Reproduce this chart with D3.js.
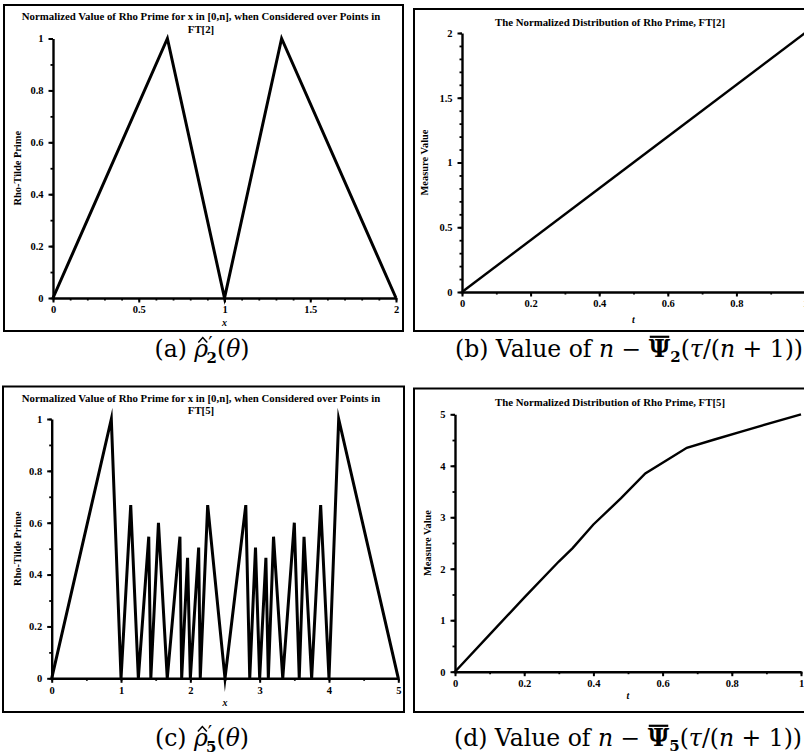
<!DOCTYPE html>
<html>
<head>
<meta charset="utf-8">
<script src="https://cdn.jsdelivr.net/npm/d3@7"></script>
<style>
  html, body { margin: 0; padding: 0; background: #fff; }
  svg { display: block; }
</style>
</head>
<body>
<script>
// ---- data -------------------------------------------------------------
// Rho-tilde prime over x in [0, n] for FT[2]
const rhoX2 = [0, 0.667, 1, 1.333, 2];
const rhoY2 = [0, 1, 0, 1, 0];

// Normalized distribution of rho prime, FT[2]
const distT2 = [0, 0.5, 1];
const distV2 = [0, 1, 2];

// Rho-tilde prime over x in [0, n] for FT[5]
const rhoX5 = [0, 0.86, 1, 1.14, 1.25, 1.40, 1.43, 1.54, 1.667, 1.85, 1.875, 1.96, 2, 2.12, 2.143,
               2.25, 2.5, 2.8, 2.857, 2.94, 3, 3.09, 3.125, 3.2, 3.333, 3.5, 3.571, 3.64, 3.75,
               3.88, 4, 4.14, 5];
const rhoY5 = [0, 1, 0, 0.668, 0, 0.546, 0, 0.60, 0, 0.546, 0, 0.465, 0, 0.504, 0,
               0.668, 0, 0.668, 0, 0.504, 0, 0.465, 0, 0.546, 0, 0.60, 0, 0.546, 0,
               0.668, 0, 1, 0];

// Normalized distribution of rho prime, FT[5]
const distT5 = [0, 0.1, 0.2, 0.3, 0.34, 0.4, 0.48, 0.55, 0.62, 0.67, 0.75, 0.83, 1];
const distV5 = [0, 0.72, 1.44, 2.14, 2.40, 2.86, 3.37, 3.85, 4.14, 4.35, 4.51, 4.67, 5];

// ---- ticks ------------------------------------------------------------
const xTicksA = [0, 0.5, 1, 1.5, 2];
const xLabelsA = ["0", "0.5", "1", "1.5", "2"];
const yTicksRho = [0, 0.2, 0.4, 0.6, 0.8, 1];
const yLabelsRho = ["0", "0.2", "0.4", "0.6", "0.8", "1"];
const xTicksT = [0, 0.2, 0.4, 0.6, 0.8, 1];
const xLabelsT = ["0", "0.2", "0.4", "0.6", "0.8", "1"];
const yTicksB = [0, 0.5, 1, 1.5, 2];
const yLabelsB = ["0", "0.5", "1", "1.5", "2"];
const xTicksC = [0, 1, 2, 3, 4, 5];
const xLabelsC = ["0", "1", "2", "3", "4", "5"];
const yTicksD = [0, 1, 2, 3, 4, 5];
const yLabelsD = ["0", "1", "2", "3", "4", "5"];

// ---- text -------------------------------------------------------------
const titleRho2 = ["Normalized Value of Rho Prime for x in [0,n], when Considered over Points in", "FT[2]"];
const titleRho5 = ["Normalized Value of Rho Prime for x in [0,n], when Considered over Points in", "FT[5]"];
const titleDist2 = ["The Normalized Distribution of Rho Prime, FT[2]"];
const titleDist5 = ["The Normalized Distribution of Rho Prime, FT[5]"];

const W = 804, H = 755;
const svg = d3.select("body").append("svg")
  .attr("width", W).attr("height", H)
  .attr("viewBox", `0 0 ${W} ${H}`);

const SMALL_FONT = "'Liberation Serif', 'Times New Roman', serif";
const CAP_FONT = "'DejaVu Serif', 'Liberation Serif', serif";

function range(a, b, step) {
  const out = [];
  const n = Math.round((b - a) / step);
  for (let i = 0; i <= n; i++) out.push(+(a + i * step).toFixed(6));
  return out;
}

function panel(p) {
  const g = svg.append("g");

  // frame
  g.append("rect")
    .attr("x", p.frame[0]).attr("y", p.frame[1])
    .attr("width", p.frame[2]).attr("height", p.frame[3])
    .attr("fill", "none").attr("stroke", "#000").attr("stroke-width", 2);

  // title
  g.append("g").selectAll("text").data(p.title).join("text")
    .attr("x", p.titleX)
    .attr("y", (d, i) => p.titleY + i * 12.6)
    .attr("text-anchor", "middle")
    .attr("font-family", SMALL_FONT)
    .attr("font-weight", "bold")
    .attr("font-size", 10.8)
    .text(d => d);

  const x = d3.scaleLinear().domain(p.xDomain).range(p.xRange);
  const y = d3.scaleLinear().domain(p.yDomain).range(p.yRange);

  // minor ticks
  g.append("g").attr("transform", `translate(0,${p.yRange[0]})`)
    .call(d3.axisBottom(x).tickValues(p.xMinor).tickFormat("").tickSize(2.5).tickSizeOuter(0))
    .call(s => s.select(".domain").remove())
    .selectAll("line").attr("stroke-width", 1.8);
  g.append("g").attr("transform", `translate(${p.xRange[0]},0)`)
    .call(d3.axisLeft(y).tickValues(p.yMinor).tickFormat("").tickSize(2.5).tickSizeOuter(0))
    .call(s => s.select(".domain").remove())
    .selectAll("line").attr("stroke-width", 1.8);

  // major axes
  const xa = g.append("g").attr("transform", `translate(0,${p.yRange[0]})`)
    .call(d3.axisBottom(x).tickValues(p.xTicks)
      .tickFormat((d, i) => p.xLabels[i]).tickSize(4.5).tickSizeOuter(0).tickPadding(3.5));
  const ya = g.append("g").attr("transform", `translate(${p.xRange[0]},0)`)
    .call(d3.axisLeft(y).tickValues(p.yTicks)
      .tickFormat((d, i) => p.yLabels[i]).tickSize(4.5).tickSizeOuter(0).tickPadding(5));
  [xa, ya].forEach(a => {
    a.attr("font-family", SMALL_FONT).attr("font-size", 10.5).attr("font-weight", "bold");
    a.select(".domain").attr("stroke-width", 2.4);
    a.selectAll(".tick line").attr("stroke-width", 2);
  });

  // axis titles
  g.append("text")
    .attr("x", (p.xRange[0] + p.xRange[1]) / 2)
    .attr("y", p.yRange[0] + p.xTitleDy)
    .attr("text-anchor", "middle")
    .attr("font-family", SMALL_FONT).attr("font-style", "italic")
    .attr("font-weight", "bold").attr("font-size", 10)
    .text(p.xTitle);
  g.append("text")
    .attr("transform", `translate(${p.yTitleX},${(p.yRange[0] + p.yRange[1]) / 2}) rotate(-90)`)
    .attr("text-anchor", "middle")
    .attr("font-family", SMALL_FONT).attr("font-weight", "bold").attr("font-size", 10.4)
    .text(p.yTitle);

  // curve
  const pts = p.xs.map((v, i) => [v, p.ys[i]]);
  g.append("path").datum(pts)
    .attr("fill", "none").attr("stroke", "#000")
    .attr("stroke-width", p.lineWidth)
    .attr("stroke-linejoin", "miter").attr("stroke-miterlimit", 10)
    .attr("d", d3.line().x(d => x(d[0])).y(d => y(d[1])));
}

panel({
  frame: [4, 5, 399, 326], title: titleRho2, titleX: 201, titleY: 20,
  xDomain: [0, 2], xRange: [53, 396], yDomain: [0, 1], yRange: [298, 38.5],
  xTicks: xTicksA, xLabels: xLabelsA, xMinor: range(0, 2, 0.1),
  yTicks: yTicksRho, yLabels: yLabelsRho, yMinor: range(0, 1, 0.1),
  xTitle: "x", xTitleDy: 28, yTitle: "Rho-Tilde Prime", yTitleX: 21,
  xs: rhoX2, ys: rhoY2, lineWidth: 3
});

panel({
  frame: [414, 9, 410, 322], title: titleDist2, titleX: 610, titleY: 26,
  xDomain: [0, 1], xRange: [462, 805], yDomain: [0, 2], yRange: [292, 33],
  xTicks: xTicksT, xLabels: xLabelsT, xMinor: range(0, 1, 0.1),
  yTicks: yTicksB, yLabels: yLabelsB, yMinor: range(0, 2, 0.1),
  xTitle: "t", xTitleDy: 31, yTitle: "Measure Value", yTitleX: 428,
  xs: distT2, ys: distV2, lineWidth: 2.4
});

panel({
  frame: [3, 386.5, 401, 325.5], title: titleRho5, titleX: 201, titleY: 401.5,
  xDomain: [0, 5], xRange: [51.7, 398.3], yDomain: [0, 1], yRange: [678.3, 419],
  xTicks: xTicksC, xLabels: xLabelsC, xMinor: range(0, 5, 0.5),
  yTicks: yTicksRho, yLabels: yLabelsRho, yMinor: range(0, 1, 0.1),
  xTitle: "x", xTitleDy: 28, yTitle: "Rho-Tilde Prime", yTitleX: 21,
  xs: rhoX5, ys: rhoY5, lineWidth: 3
});

panel({
  frame: [414, 388.5, 410, 323.5], title: titleDist5, titleX: 610, titleY: 405.5,
  xDomain: [0, 1], xRange: [455, 801], yDomain: [0, 5], yRange: [671.7, 414.3],
  xTicks: xTicksT, xLabels: xLabelsT, xMinor: range(0, 1, 0.1),
  yTicks: yTicksD, yLabels: yLabelsD, yMinor: range(0, 5, 0.5),
  xTitle: "t", xTitleDy: 27, yTitle: "Measure Value", yTitleX: 431,
  xs: distT5, ys: distV5, lineWidth: 2.4
});

// ---- sub-figure captions -------------------------------------------------
const CAP_SIZE = 23.5;

function capText(cx, cy) {
  return svg.append("text").attr("x", cx).attr("y", cy)
    .attr("text-anchor", "middle")
    .attr("font-family", CAP_FONT).attr("font-size", CAP_SIZE);
}

// extent of the n-th character of a caption, counted over all its tspans
function charBox(textSel, idx) {
  return textSel.node().getExtentOfChar(idx);
}

function rhoCaption(cx, cy, letter, sub) {
  const t = capText(cx, cy);
  const lead = `(${letter}) `;
  t.append("tspan").text(lead);
  t.append("tspan").attr("font-style", "italic").text("\u03C1");
  t.append("tspan").attr("dy", -7).attr("font-size", 19).text("\u2032");
  t.append("tspan").attr("dx", -6).attr("dy", 13).attr("font-size", 15).attr("font-weight", "bold").text(sub);
  t.append("tspan").attr("dy", -6).text("(");
  t.append("tspan").attr("font-style", "italic").text("\u03B8");
  t.append("tspan").text(")");
  // circumflex over rho
  const b = charBox(t, lead.length);
  const hx = b.x + b.width / 2 + 1.5;
  svg.append("path")
    .attr("d", `M${hx - 4.5},${cy - 14.5} L${hx},${cy - 19.5} L${hx + 4.5},${cy - 14.5}`)
    .attr("fill", "none").attr("stroke", "#000").attr("stroke-width", 1.5);
}

function psiCaption(cx, cy, letter, sub) {
  const t = capText(cx, cy);
  const lead = `(${letter}) Value of `;
  t.append("tspan").text(lead);
  t.append("tspan").attr("font-style", "italic").text("n");
  t.append("tspan").text(" \u2212 ");
  t.append("tspan").attr("font-weight", "bold").text("\u03A8");
  t.append("tspan").attr("dy", 5).attr("font-size", 15).attr("font-weight", "bold").text(sub);
  t.append("tspan").attr("dy", -5).text("(");
  t.append("tspan").attr("font-style", "italic").text("\u03C4");
  t.append("tspan").text("/(");
  t.append("tspan").attr("font-style", "italic").text("n");
  t.append("tspan").text(" + 1))");
  // bar over Psi
  const b = charBox(t, lead.length + 1 + 3);
  svg.append("line")
    .attr("x1", b.x + 1).attr("x2", b.x + b.width - 1)
    .attr("y1", cy - CAP_SIZE * 0.86).attr("y2", cy - CAP_SIZE * 0.86)
    .attr("stroke", "#000").attr("stroke-width", 2.2);
}

rhoCaption(202, 357, "a", "2");
psiCaption(629, 357, "b", "2");
rhoCaption(202, 746, "c", "5");
psiCaption(628, 746, "d", "5");
</script>
</body>
</html>
